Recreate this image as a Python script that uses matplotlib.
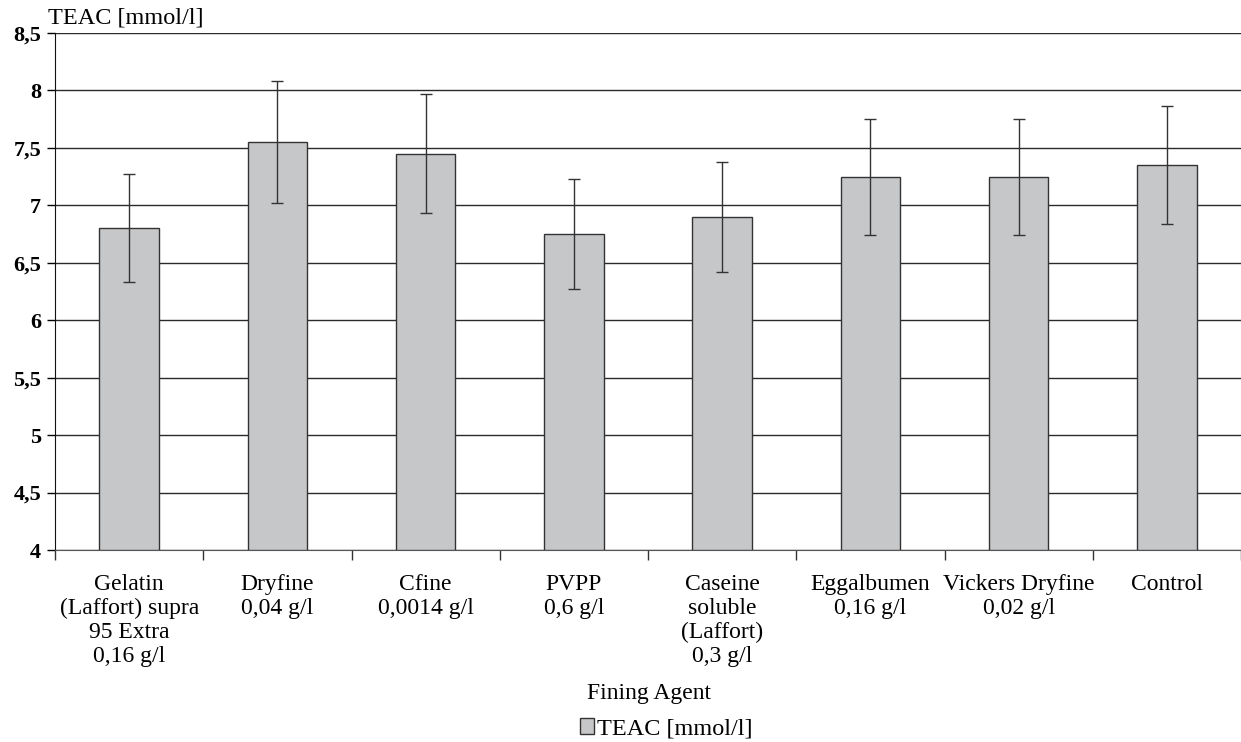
import matplotlib.pyplot as plt
import numpy as np
from matplotlib.ticker import FuncFormatter, MultipleLocator

plt.rcParams['font.family'] = ['Liberation Serif', 'DejaVu Serif']

# TEAC per fining agent, mean and standard deviation
agents = ['Gelatin\n(Laffort) supra\n95 Extra\n0,16 g/l', 'Dryfine\n0,04 g/l', 'Cfine\n0,0014 g/l',
          'PVPP\n0,6 g/l', 'Caseine\nsoluble\n(Laffort)\n0,3 g/l', 'Eggalbumen\n0,16 g/l',
          'Vickers Dryfine\n0,02 g/l', 'Control']
teac = [6.8, 7.55, 7.45, 6.75, 6.9, 7.25, 7.25, 7.35]
teac_sd = [0.47, 0.53, 0.52, 0.475, 0.48, 0.505, 0.505, 0.515]

fig = plt.figure(figsize=(12.41, 7.42), dpi=100)
ax = fig.add_axes([55/1241, 1-550/742, 1-55/1241, (550-33)/742])

x = np.arange(len(agents))
ax.bar(x, np.array(teac) - 4, bottom=4, width=0.4, color='#c6c7c9', edgecolor='#333333',
       linewidth=1.0, zorder=3, label='TEAC [mmol/l]')
ax.errorbar(x, teac, yerr=teac_sd, fmt='none', ecolor='#333333', elinewidth=1.0,
            capsize=4, capthick=1.0, zorder=4)

ax.set_ylim(4, 8.5)
ax.set_xlim(-0.5, len(agents) - 0.5)
ax.yaxis.set_major_locator(MultipleLocator(0.5))
ax.yaxis.set_major_formatter(FuncFormatter(lambda v, p: ('%g' % v).replace('.', ',')))
ax.grid(axis='y', color='#2a2a2a', linewidth=1.0, zorder=1)

# category boundaries carry the ticks, labels sit under the bars
ax.set_xticks(np.arange(len(agents) + 1) - 0.5)
ax.set_xticklabels([])
ax.set_xticks(x, minor=True)
ax.set_xticklabels(agents, minor=True, fontsize=17, linespacing=1.2, va='top')
ax.tick_params(axis='x', which='minor', length=0, pad=17)
ax.tick_params(axis='x', which='major', length=7, width=1, color='#333333')
ax.tick_params(axis='y', length=6, width=1, labelsize=16, pad=4)
for lab in ax.get_yticklabels():
    lab.set_fontweight('bold')

for s in ['top', 'right']:
    ax.spines[s].set_visible(False)
ax.spines['bottom'].set_color('#555555')
ax.spines['left'].set_color('#111111')

fig.text(48/1241, 1-18/742, 'TEAC [mmol/l]', fontsize=17.5, ha='left', va='center')
fig.text(649/1241, 1-694/742, 'Fining Agent', fontsize=17, ha='center', va='center')
fig.legend(loc='center', bbox_to_anchor=(666/1241, 1-729/742), frameon=False, fontsize=17.5,
           handlelength=0.6, handleheight=0.6, handletextpad=0.1)

fig.savefig('out.png', dpi=100)
